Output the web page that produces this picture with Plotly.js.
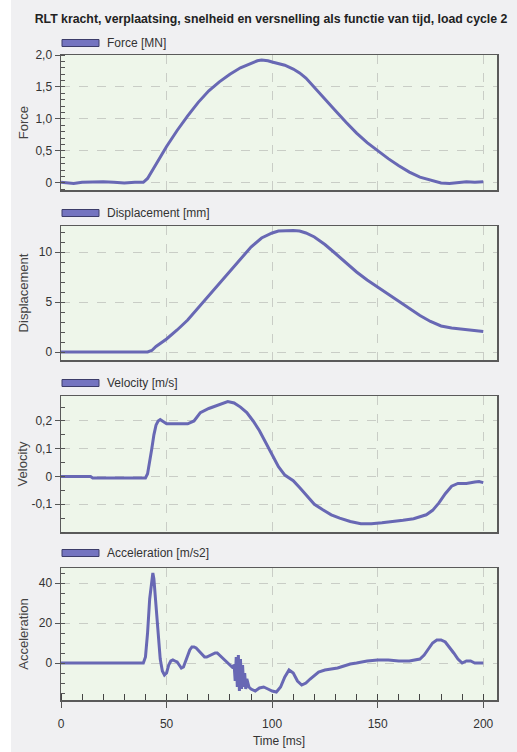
<!DOCTYPE html>
<html>
<head>
<meta charset="utf-8">
<script src="https://cdn.plot.ly/plotly-3.0.1.min.js"></script>
<style>html,body{margin:0;padding:0;background:#f0f0f2;}#chart{width:517px;height:752px;}</style>
</head>
<body>
<div id="chart"></div>
<script>
// ---- data ----
const chartTitle = "RLT kracht, verplaatsing, snelheid en versnelling als functie van tijd, load cycle 2";
const seriesNames = ["Force [MN]", "Displacement [mm]", "Velocity [m/s]", "Acceleration [m/s2]"];
const axisTitles = ["Force", "Displacement", "Velocity", "Acceleration"];
const xTitle = "Time [ms]";
const xTickVals = [0, 50, 100, 150, 200];
const xTickText = ["0", "50", "100", "150", "200"];

const forceTime = [0,3,6,10,15,20,25,30,35,39,41,43,45,48,50,55,60,65,70,75,80,85,90,93,95,98,100,103,106,110,113,116,120,125,130,135,140,145,150,155,160,165,170,175,178,180,184,188,192,196,198,200];
const forceVal = [0.01,0.0,-0.01,0.01,0.02,0.02,0.01,0.0,0.01,0.01,0.07,0.18,0.3,0.47,0.57,0.82,1.05,1.26,1.44,1.58,1.7,1.8,1.87,1.91,1.92,1.91,1.89,1.86,1.84,1.78,1.72,1.64,1.49,1.31,1.13,0.95,0.78,0.63,0.5,0.38,0.27,0.17,0.09,0.04,0.01,0.0,-0.01,0.01,0.02,0.01,0.02,0.02];

const dispTime = [0,20,41,43,45,50,55,60,65,70,75,80,85,90,95,100,103,106,110,113,116,120,125,130,135,140,145,150,155,160,165,170,175,180,185,190,195,200];
const dispVal = [0,0,0,0.15,0.55,1.3,2.2,3.2,4.4,5.6,6.8,8.1,9.3,10.5,11.4,11.9,12.1,12.15,12.15,12.1,11.9,11.5,10.75,9.85,8.9,8.0,7.2,6.5,5.8,5.1,4.4,3.65,3.05,2.6,2.4,2.3,2.15,2.05];

const velTime = [0,14,15,40,41,42,43,44,45,46,47,48,50,55,60,63,66,70,75,79,82,85,88,91,94,97,100,103,106,110,113,117,120,124,128,132,137,142,147,152,157,162,167,170,173,176,179,182,185,188,192,196,198,200];
const velVal = [0,0,-0.005,-0.005,0.01,0.05,0.1,0.15,0.185,0.2,0.205,0.2,0.19,0.19,0.19,0.2,0.23,0.245,0.26,0.27,0.265,0.25,0.23,0.2,0.165,0.12,0.075,0.035,0.005,-0.015,-0.04,-0.075,-0.1,-0.12,-0.138,-0.15,-0.162,-0.17,-0.17,-0.167,-0.163,-0.158,-0.152,-0.145,-0.138,-0.122,-0.095,-0.062,-0.035,-0.025,-0.025,-0.02,-0.018,-0.022];

const accTime = [0,39,40,41,42,43,43.5,44,45,46,47,48,49,50,51,52,53,54,55,56,57,58,59,60,61,62,63,64,65,66,67,68,69,70,71,72,73,74,75,76,77,78,79,80,81,82,82.5,83,83.5,84,84.5,85,85.5,86,86.5,87,87.5,88,89,90,92,94,96,98,100,102,104,106,108,110,112,114,116,118,120,122,125,128,131,134,137,140,145,150,155,160,165,170,172,174,176,178,180,182,184,186,188,190,192,194,196,200];
const accVal = [0,0,3,15,32,43,45,42,28,12,2,-4,-6,-5,-1,1,1.5,1,0.5,-1,-2.5,-2,1,4,6.5,8,8,7.5,6.5,5.5,4,3,3,3.5,4,4.5,5,5,4,3,2,1,0,-1,-2,-1,-9,3,-12,4,-14,2,-13,-1,-12,-5,-13,-8,-12,-13,-14,-12.5,-12,-13,-14,-14.5,-12,-7,-3.5,-5,-9,-11,-10,-8,-6,-4.5,-3.5,-3,-2.5,-1.5,-0.5,0,1,1.5,1.5,1,1,2,4,7,10,11.5,11.5,10.5,8,5,2,0,1,1,0,0];

const forceTicks = [0, 0.5, 1.0, 1.5, 2.0];
const forceTickText = ["0", "0,5", "1,0", "1,5", "2,0"];
const dispTicks = [0, 5, 10];
const dispTickText = ["0", "5", "10"];
const velTicks = [-0.1, 0, 0.1, 0.2];
const velTickText = ["-0,1", "0", "0,1", "0,2"];
const accTicks = [0, 20, 40];
const accTickText = ["0", "20", "40"];

// ---- styling / layout ----
const W = 517, H = 752, L = 61, R = 20;
const lineColor = "#6868b4";
const font = "Liberation Sans, Arial, sans-serif";
const fy = px => 1 - px / H;             // pixel row -> paper y
const fx = px => (px - L) / (W - L - R); // pixel col -> paper x

const panels = [
  {t: forceTime, v: forceVal, top: 55, bot: 190, range: [-0.11, 2.0], tv: forceTicks, tt: forceTickText, minor: 0.1, leg: 43, standoff: 4},
  {t: dispTime, v: dispVal, top: 226, bot: 360, range: [-0.8, 12.6], tv: dispTicks, tt: dispTickText, minor: 1, leg: 213, standoff: 7},
  {t: velTime, v: velVal, top: 396, bot: 532, range: [-0.2, 0.29], tv: velTicks, tt: velTickText, minor: 0.05, leg: 383, standoff: 1},
  {t: accTime, v: accVal, top: 568, bot: 700, range: [-18.5, 47.5], tv: accTicks, tt: accTickText, minor: 5, leg: 553, standoff: 7}
];

const traces = [];
const layout = {
  width: W, height: H,
  margin: {l: L, r: R, t: 0, b: 0},
  paper_bgcolor: "#f0f0f2",
  plot_bgcolor: "#eef6ea",
  showlegend: false,
  font: {family: font, size: 12, color: "#333"},
  title: {
    text: "<b>" + chartTitle + "</b>",
    x: 271 / W, xref: "container", xanchor: "center",
    y: 1 - 19 / H, yref: "container", yanchor: "middle",
    font: {family: font, size: 12.3, color: "#222"}
  },
  shapes: [],
  annotations: []
};

panels.forEach((p, i) => {
  const n = i === 0 ? "" : String(i + 1);
  traces.push({
    x: p.t, y: p.v, type: "scatter", mode: "lines",
    name: seriesNames[i],
    xaxis: "x" + n, yaxis: "y" + n,
    line: {color: lineColor, width: 3}
  });
  const isBottom = i === panels.length - 1;
  layout["xaxis" + n] = {
    domain: [0, 1], range: [0, 206.5], anchor: "y" + n,
    tickmode: "array", tickvals: xTickVals, ticktext: xTickText,
    showticklabels: isBottom,
    ticks: isBottom ? "outside" : "", ticklen: 6, tickcolor: "#555",
    ticklabelstandoff: isBottom ? 6 : 0,
    showgrid: true, gridcolor: "#c9cdc6", griddash: "dash", gridwidth: 1,
    zeroline: false, showline: true, mirror: true, linecolor: "#5a5a5a", linewidth: 1.5,
    tickfont: {family: font, size: 12, color: "#333"},
    minor: isBottom ? {tickmode: "linear", tick0: 0, dtick: 10, ticks: "inside", ticklen: 6, tickcolor: "#444", showgrid: false} : undefined,
    title: isBottom ? {text: xTitle, font: {family: font, size: 12, color: "#333"}, standoff: 6} : undefined,
    automargin: false
  };
  layout["yaxis" + n] = {
    domain: [fy(p.bot), fy(p.top)], range: p.range, anchor: "x" + n,
    tickmode: "array", tickvals: p.tv, ticktext: p.tt,
    ticks: "outside", ticklen: 5, tickcolor: "#555",
    showgrid: true, gridcolor: "#c9cdc6", griddash: "dash", gridwidth: 1,
    zeroline: false, showline: true, mirror: true, linecolor: "#5a5a5a", linewidth: 1.5,
    tickfont: {family: font, size: 12, color: "#333"},
    minor: {tickmode: "linear", tick0: 0, dtick: p.minor, ticks: "inside", ticklen: 4, tickcolor: "#555", showgrid: false},
    title: {text: axisTitles[i], font: {family: font, size: 13, color: "#444"}, standoff: p.standoff},
    automargin: false
  };
  // legend swatch + label
  layout.shapes.push({
    type: "rect", xref: "paper", yref: "paper",
    x0: fx(62), x1: fx(99), y0: fy(p.leg + 3.5), y1: fy(p.leg - 3.5),
    fillcolor: "#7474c0", line: {color: "#3c3c6a", width: 1}
  });
  layout.annotations.push({
    text: seriesNames[i], xref: "paper", yref: "paper",
    x: fx(105), y: fy(p.leg), xanchor: "left", yanchor: "middle",
    showarrow: false, font: {family: font, size: 12, color: "#333"}
  });
});

// white strip at the far left of the picture
layout.shapes.push({
  type: "rect", xref: "paper", yref: "paper", layer: "below",
  x0: fx(0), x1: fx(11), y0: 0, y1: 1,
  fillcolor: "#ffffff", line: {width: 0}
});

Plotly.newPlot("chart", traces, layout, {displayModeBar: false, staticPlot: true});
</script>
</body>
</html>
